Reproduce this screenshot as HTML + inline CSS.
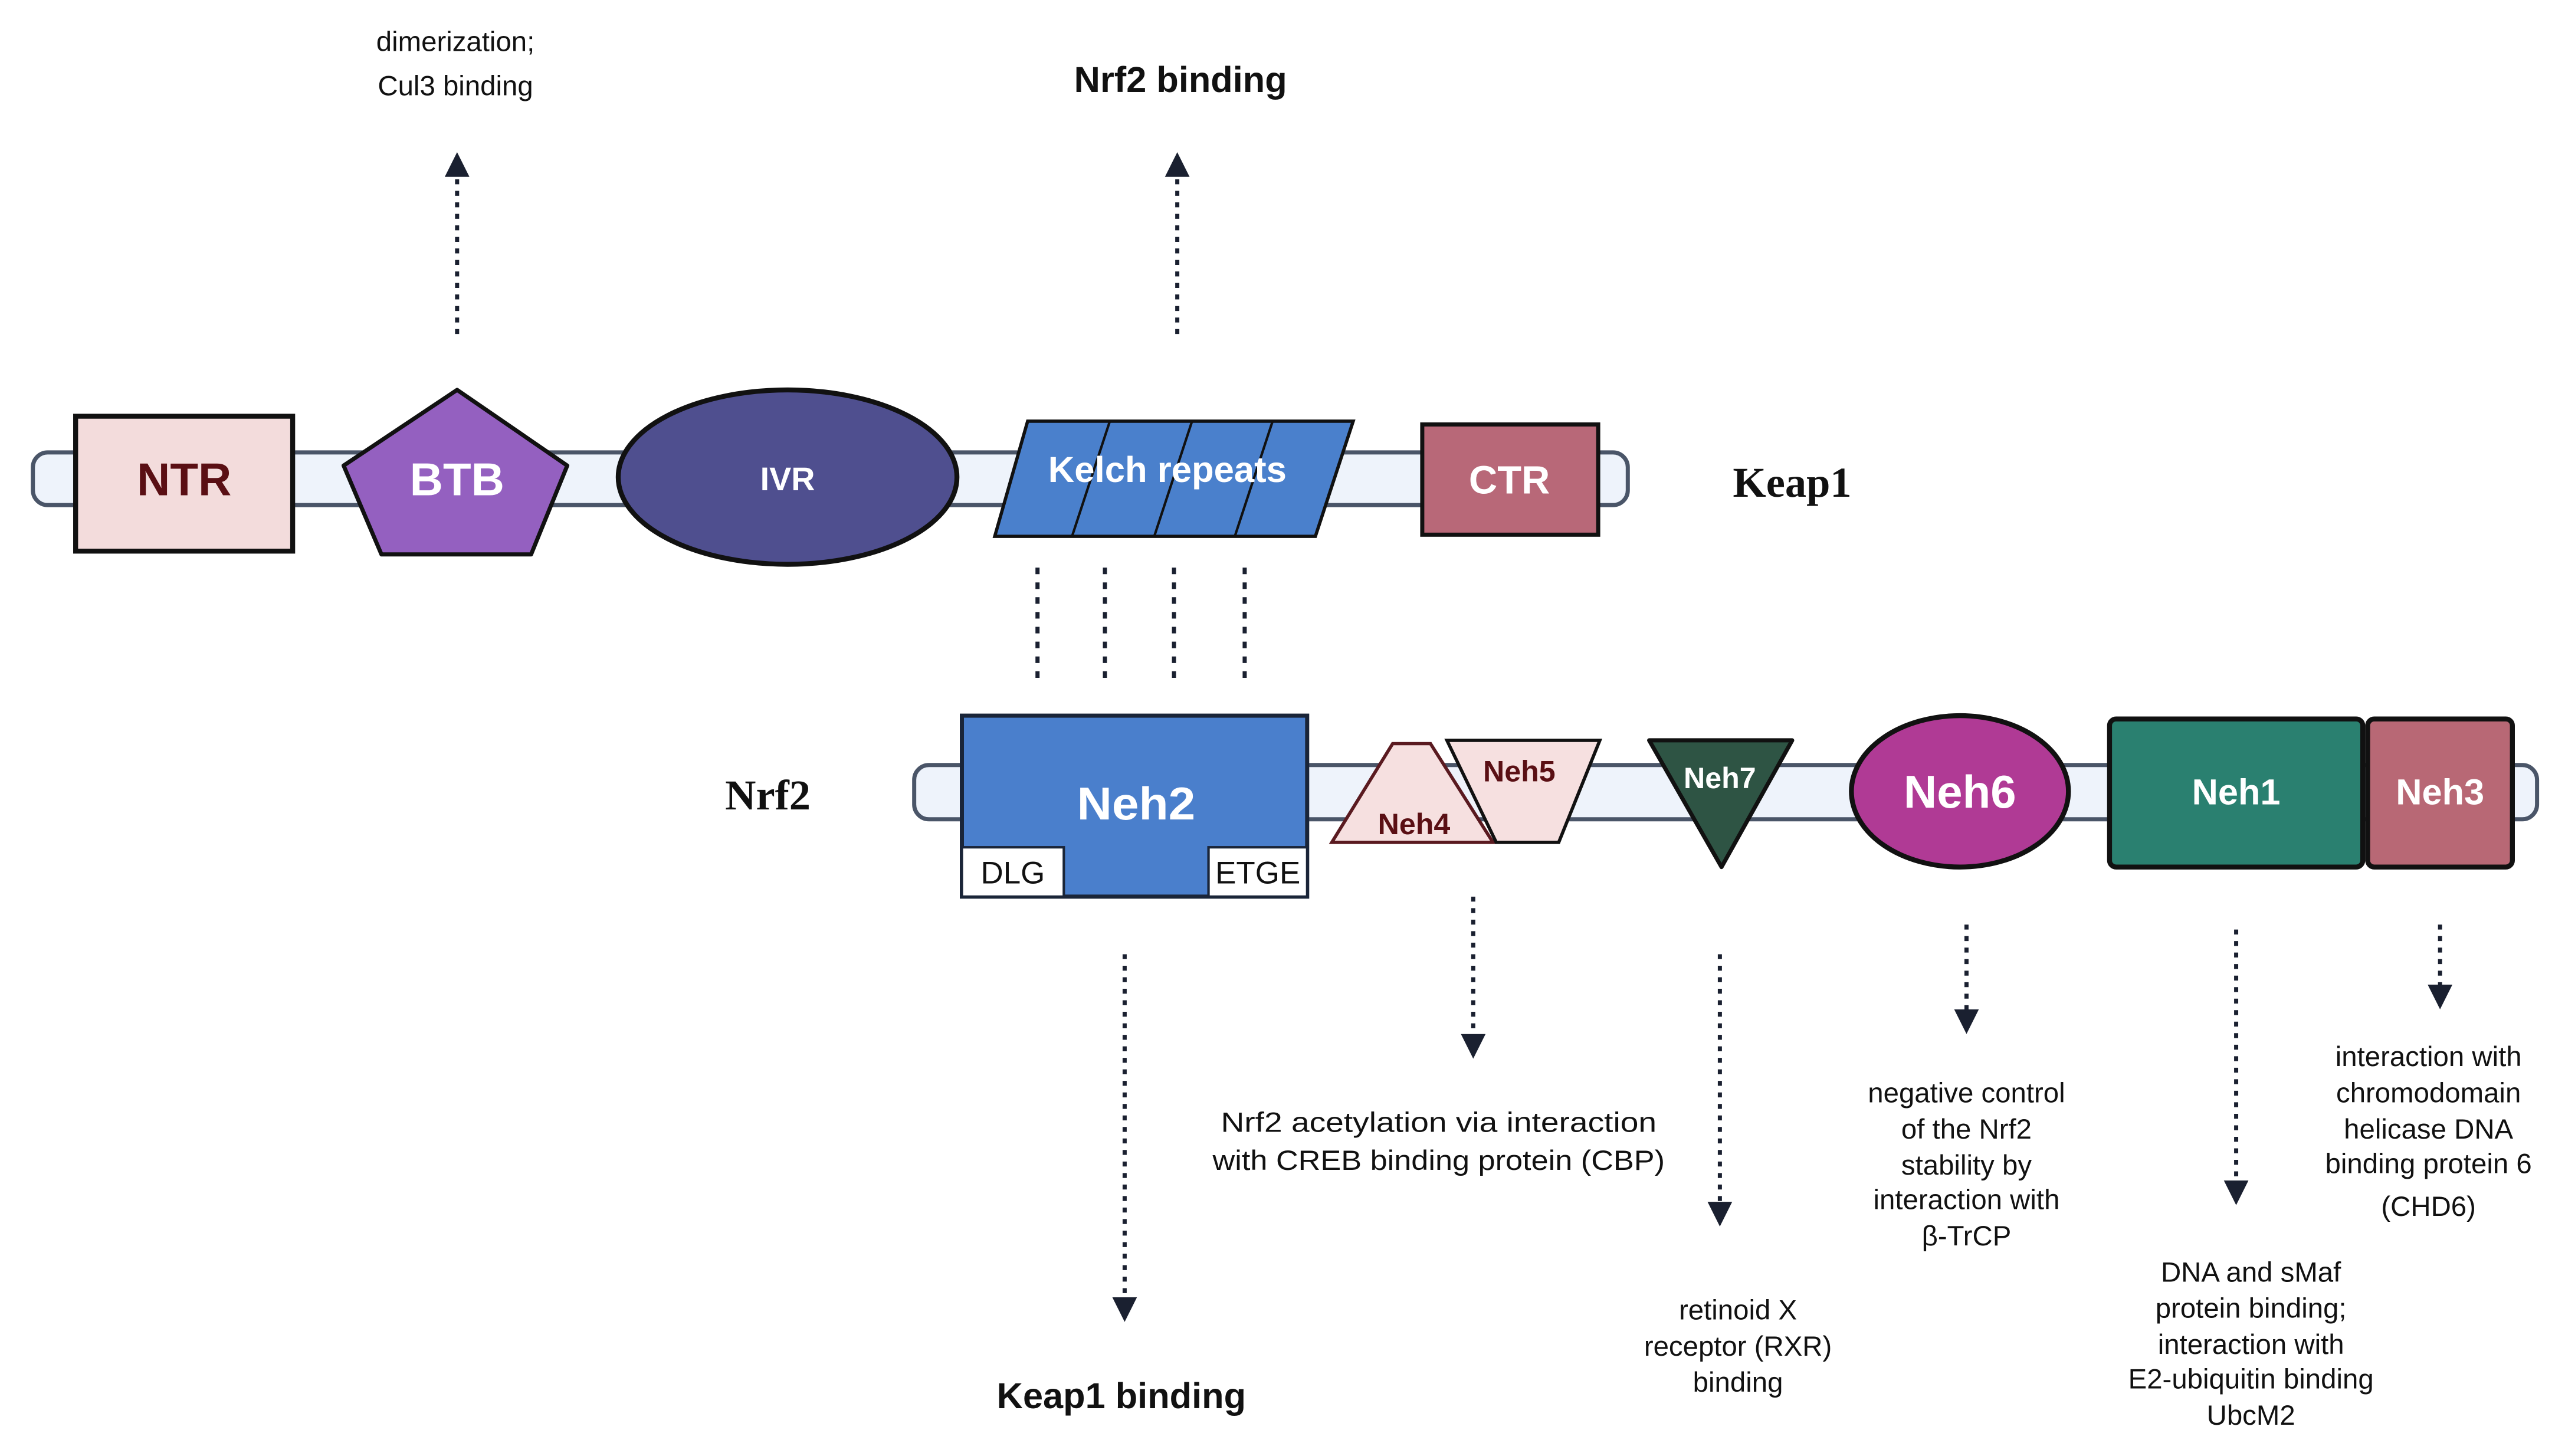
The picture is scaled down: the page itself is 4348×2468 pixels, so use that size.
<!DOCTYPE html>
<html><head><meta charset="utf-8"><style>html,body{margin:0;padding:0;background:#fff}svg{display:block}</style></head>
<body>
<svg width="4348" height="2468" viewBox="0 0 1560 885" preserveAspectRatio="none" xmlns="http://www.w3.org/2000/svg" font-family="Liberation Sans, sans-serif">
<defs><marker id="ah" markerWidth="6" markerHeight="6" refX="3" refY="3" orient="auto"><path d="M0,0 L6,3 L0,6 z" fill="#1a2030"/></marker></defs>
<rect width="1560" height="885" fill="#fff"/>
<!-- Keap1 -->
<rect x="20" y="275" width="970" height="32" rx="9" fill="#eef3fb" stroke="#4a5568" stroke-width="2.5"/>
<rect x="46" y="253" width="132" height="82" fill="#f3dcdc" stroke="#111" stroke-width="3"/>
<text x="112" y="301" font-size="28" font-weight="bold" fill="#5a0f14" text-anchor="middle">NTR</text>
<polygon points="278,237 345,283 323,337 232,337 209,283" fill="#9460c0" stroke="#111" stroke-width="2.5" stroke-linejoin="round"/>
<text x="278" y="301" font-size="28" font-weight="bold" fill="#fff" text-anchor="middle">BTB</text>
<ellipse cx="479" cy="290" rx="103" ry="53" fill="#4f4f8f" stroke="#111" stroke-width="3"/>
<text x="479" y="298" font-size="20" font-weight="bold" fill="#fff" text-anchor="middle">IVR</text>
<polygon points="625,256 823,256 800,326 605,326" fill="#4a80cc" stroke="#111" stroke-width="2"/>
<g stroke="#111" stroke-width="1.5"><line x1="675" y1="256" x2="652" y2="326"/><line x1="725" y1="256" x2="702" y2="326"/><line x1="774" y1="256" x2="751" y2="326"/></g>
<text x="710" y="293" font-size="22" font-weight="bold" fill="#fff" text-anchor="middle" textLength="145" lengthAdjust="spacingAndGlyphs">Kelch repeats</text>
<rect x="865" y="258" width="107" height="67" fill="#b86878" stroke="#111" stroke-width="2.5"/>
<text x="918" y="300" font-size="24" font-weight="bold" fill="#fff" text-anchor="middle">CTR</text>
<text x="1090" y="302" font-size="26" font-weight="bold" font-family="Liberation Serif, serif" fill="#111" text-anchor="middle">Keap1</text>
<!-- up arrows -->
<g stroke="#1a2030" stroke-width="2.5" stroke-dasharray="3,4"><line x1="278" y1="203" x2="278" y2="100" marker-end="url(#ah)"/><line x1="716" y1="203" x2="716" y2="100" marker-end="url(#ah)"/></g>
<g font-size="17" fill="#111" text-anchor="middle"><text x="277" y="31">dimerization;</text><text x="277" y="58">Cul3 binding</text></g>
<text x="718" y="56" font-size="22" font-weight="bold" fill="#111" text-anchor="middle">Nrf2 binding</text>
<g stroke="#1a2030" stroke-width="2.5" stroke-dasharray="4,5"><line x1="631" y1="345" x2="631" y2="413"/><line x1="672" y1="345" x2="672" y2="413"/><line x1="714" y1="345" x2="714" y2="413"/><line x1="757" y1="345" x2="757" y2="413"/></g>
<!-- Nrf2 -->
<rect x="556" y="465" width="987" height="33" rx="9" fill="#eef3fb" stroke="#4a5568" stroke-width="2.5"/>
<text x="467" y="492" font-size="26" font-weight="bold" font-family="Liberation Serif, serif" fill="#111" text-anchor="middle">Nrf2</text>
<rect x="585" y="435" width="210" height="110" fill="#4a7fcc" stroke="#1a2538" stroke-width="2.5"/>
<rect x="585" y="515" width="62" height="30" fill="#fff" stroke="#1a2538" stroke-width="1.5"/>
<rect x="735" y="515" width="60" height="30" fill="#fff" stroke="#1a2538" stroke-width="1.5"/>
<text x="616" y="537" font-size="19" fill="#111" text-anchor="middle">DLG</text>
<text x="765" y="537" font-size="19" fill="#111" text-anchor="middle">ETGE</text>
<text x="691" y="498" font-size="28" font-weight="bold" fill="#fff" text-anchor="middle" textLength="72" lengthAdjust="spacingAndGlyphs">Neh2</text>
<polygon points="847,452 870,452 908,512 810,512" fill="#f6e0e0" stroke="#5a1a20" stroke-width="2"/>
<text x="860" y="507" font-size="18" font-weight="bold" fill="#5a0f14" text-anchor="middle">Neh4</text>
<polygon points="880,450 973,450 948,512 910,512" fill="#f6e0e0" stroke="#111" stroke-width="2"/>
<text x="924" y="475" font-size="18" font-weight="bold" fill="#5a0f14" text-anchor="middle">Neh5</text>
<polygon points="1003,450 1090,450 1047,527" fill="#2e5444" stroke="#111" stroke-width="2.5" stroke-linejoin="round"/>
<text x="1046" y="479" font-size="18" font-weight="bold" fill="#fff" text-anchor="middle">Neh7</text>
<ellipse cx="1192" cy="481" rx="66" ry="46" fill="#b03a95" stroke="#111" stroke-width="3"/>
<text x="1192" y="491" font-size="28" font-weight="bold" fill="#fff" text-anchor="middle">Neh6</text>
<rect x="1283" y="437" width="154" height="90" rx="4" fill="#2a8070" stroke="#111" stroke-width="3"/>
<text x="1360" y="489" font-size="22" font-weight="bold" fill="#fff" text-anchor="middle">Neh1</text>
<rect x="1440" y="437" width="88" height="90" rx="4" fill="#b86875" stroke="#111" stroke-width="3"/>
<text x="1484" y="489" font-size="22" font-weight="bold" fill="#fff" text-anchor="middle">Neh3</text>
<!-- down arrows -->
<g stroke="#1a2030" stroke-width="2.5" stroke-dasharray="3,4">
<line x1="684" y1="580" x2="684" y2="796" marker-end="url(#ah)"/>
<line x1="896" y1="545" x2="896" y2="636" marker-end="url(#ah)"/>
<line x1="1046" y1="580" x2="1046" y2="738" marker-end="url(#ah)"/>
<line x1="1196" y1="562" x2="1196" y2="621" marker-end="url(#ah)"/>
<line x1="1360" y1="565" x2="1360" y2="725" marker-end="url(#ah)"/>
<line x1="1484" y1="562" x2="1484" y2="606" marker-end="url(#ah)"/>
</g>
<text x="682" y="856" font-size="22" font-weight="bold" fill="#111" text-anchor="middle">Keap1 binding</text>
<g font-size="17" fill="#111" text-anchor="middle">
<text x="875" y="688" textLength="265" lengthAdjust="spacingAndGlyphs">Nrf2 acetylation via interaction</text><text x="875" y="711" textLength="275" lengthAdjust="spacingAndGlyphs">with CREB binding protein (CBP)</text>
<text x="1057" y="802">retinoid X</text><text x="1057" y="824">receptor (RXR)</text><text x="1057" y="846">binding</text>
<text x="1196" y="670">negative control</text><text x="1196" y="692">of the Nrf2</text><text x="1196" y="714">stability by</text><text x="1196" y="735">interaction with</text><text x="1196" y="757">β-TrCP</text>
<text x="1369" y="779">DNA and sMaf</text><text x="1369" y="801">protein binding;</text><text x="1369" y="823">interaction with</text><text x="1369" y="844">E2-ubiquitin binding</text><text x="1369" y="866">UbcM2</text>
<text x="1477" y="648">interaction with</text><text x="1477" y="670">chromodomain</text><text x="1477" y="692">helicase DNA</text><text x="1477" y="713">binding protein 6</text><text x="1477" y="739">(CHD6)</text>
</g>
</svg>
</body></html>
